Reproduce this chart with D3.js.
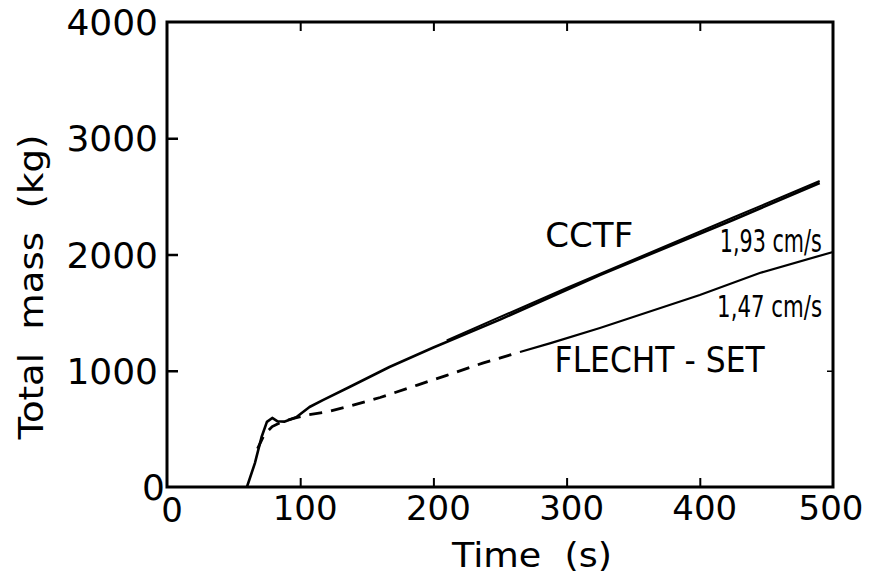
<!DOCTYPE html>
<html><head><meta charset="utf-8">
<script src="https://cdn.jsdelivr.net/npm/d3@7/dist/d3.min.js"></script>
<style>body{margin:0;background:#fff}svg{display:block}text{font-family:"DejaVu Sans",sans-serif;fill:#000;white-space:pre}</style>
</head><body><svg id="c" width="873" height="580"></svg>
<script>
const xTicks=[0,100,200,300,400,500];
const yTicks=[0,1000,2000,3000,4000];
const cctfTime=[60,66,71,75,79,83,88,97,107,117,137,167,200,250,288,325,425,490];
const cctfMass=[0,206,430,560,594,565,562,600,688,748,860,1032,1200,1440,1634,1824,2297,2615];
const fs193Time=[210,300,425,490];
const fs193Mass=[1262,1712,2318,2632];
const fsDashTime=[68,73,79,86,95,105,120,137,160,188,210,237,265];
const fsDashMass=[330,450,520,560,590,620,645,695,770,877,960,1066,1161];
const fsSolidTime=[265,288,325,400,445,500];
const fsSolidMass=[1161,1238,1368,1652,1841,2022];
const labels={cctf:"CCTF",v193:"1,93 cm/s",v147:"1,47 cm/s",fs:"FLECHT - SET",xTitle:"Time  (s)",yTitle:"Total  mass  (kg)"};

const svg=d3.select("#c");
const x=d3.scaleLinear().domain([0,500]).range([167,833]);
const y=d3.scaleLinear().domain([0,4000]).range([487,22]);

// frame
svg.append("rect").attr("x",x(0)).attr("y",y(4000)).attr("width",x(500)-x(0)).attr("height",y(0)-y(4000))
  .attr("fill","none").attr("stroke","#000").attr("stroke-width",3);

// inner ticks
const inner=[100,200,300,400];
svg.append("g").attr("transform",`translate(0,${y(0)})`).call(d3.axisTop(x).tickValues(inner).tickSize(9).tickFormat(""))
  .call(g=>g.select(".domain").remove()).selectAll("line").attr("stroke-width",2);
svg.append("g").attr("transform",`translate(0,${y(4000)})`).call(d3.axisBottom(x).tickValues(inner).tickSize(9).tickFormat(""))
  .call(g=>g.select(".domain").remove()).selectAll("line").attr("stroke-width",2);
svg.append("g").attr("transform",`translate(${x(0)},0)`).call(d3.axisRight(y).tickValues([1000,2000,3000]).tickSize(11).tickFormat(""))
  .call(g=>g.select(".domain").remove()).selectAll("line").attr("stroke-width",2.5);
svg.append("g").attr("transform",`translate(${x(500)},0)`).call(d3.axisLeft(y).tickValues([1000]).tickSize(6).tickFormat(""))
  .call(g=>g.select(".domain").remove()).selectAll("line").attr("stroke-width",1.5);

// tick labels
svg.append("g").selectAll("text").data(xTicks).join("text")
  .attr("x",d=>x(d)+(d===500?-2:5)).attr("y",d=>d===0?522:520).attr("text-anchor","middle")
  .attr("font-size",34).text(d=>d);
svg.append("g").selectAll("text").data(yTicks).join("text")
  .attr("x",d=>d===0?x(0)-2:x(0)-9).attr("y",d=>y(d)+13).attr("text-anchor","end")
  .attr("font-size",36).text(d=>d);

// text fitted horizontally by scaling
function fitted(t,px,py,w,fsz,anchor,rot){
  const g=svg.append("g");
  const tx=g.append("text").attr("font-size",fsz).attr("text-anchor",anchor||"start").text(t);
  const nat=tx.node().getComputedTextLength();
  g.attr("transform",`translate(${px},${py}) rotate(${rot||0}) scale(${w/nat},1)`);
}

// titles
fitted(labels.xTitle,532,567,160,33,"middle",0);
fitted(labels.yTitle,43,287,305,34,"middle",-90);

// curves
const line=d3.line().x(d=>x(d[0])).y(d=>y(d[1])).curve(d3.curveLinear);
const zip=(a,b)=>a.map((v,i)=>[v,b[i]]);
svg.append("path").attr("d",line(zip(cctfTime,cctfMass))).attr("fill","none").attr("stroke","#000").attr("stroke-width",2.6).attr("stroke-linejoin","round");
svg.append("path").attr("d",line(zip(fs193Time,fs193Mass))).attr("fill","none").attr("stroke","#000").attr("stroke-width",2).attr("stroke-linejoin","round");
svg.append("path").attr("d",line(zip(fsDashTime,fsDashMass))).attr("fill","none").attr("stroke","#000").attr("stroke-width",2.8).attr("stroke-dasharray","13,9");
svg.append("path").attr("d",line(zip(fsSolidTime,fsSolidMass))).attr("fill","none").attr("stroke","#000").attr("stroke-width",2.2);

// annotations
fitted(labels.cctf,x(284),y(2065),88,34);
fitted(labels.v193,x(415),y(2022),102,32);
fitted(labels.v147,x(413),y(1462),105,31);
fitted(labels.fs,x(291),y(989),210,35);
</script></body></html>
